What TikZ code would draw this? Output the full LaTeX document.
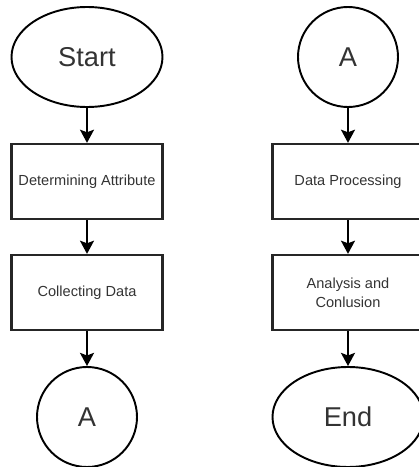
\documentclass[tikz,border=0pt]{standalone}
\usepackage{fontspec}
\setmainfont{Liberation Sans}
\usepackage{tikz}
\usetikzlibrary{arrows.meta,shapes.geometric}

\begin{document}
\begin{tikzpicture}[
  font=\fontsize{8.3}{10.8}\selectfont,
  arrow/.style={-{Stealth[length=7.5pt,width=8pt,inset=1.5pt]}, line width=1.1pt},
  stepbox/.style={draw=black!85, line width=1.3pt, text=black!80, minimum width=3.02cm, minimum height=1.5cm, align=center, inner sep=1pt},
  terminal/.style={ellipse, draw, line width=1.1pt, text=black!80, minimum width=3.02cm, minimum height=2.0cm, inner sep=0pt, font=\fontsize{15.5}{18}\selectfont},
  connector/.style={circle, draw, line width=1.1pt, text=black!80, minimum size=2.0cm, inner sep=0pt, font=\fontsize{15.5}{18}\selectfont}
]
\useasboundingbox (0,0) rectangle (8.38,9.34);

% left column
\node[terminal] (start) at (1.74,8.2) {Start};
\node[stepbox] (attr) at (1.74,5.71) {Determining Attribute};
\node[stepbox] (collect) at (1.74,3.49) {Collecting Data};
\node[connector] (outA) at (1.74,1.0) {A};

% right column
\node[connector] (inA) at (6.96,8.2) {A};
\node[stepbox] (proc) at (6.96,5.71) {Data Processing};
\node[stepbox] (anal) at (6.96,3.49) {Analysis and\\Conlusion};
\node[terminal] (stop) at (6.96,1.0) {End};

\draw[arrow] (start) -- (attr);
\draw[arrow] (attr) -- (collect);
\draw[arrow] (collect) -- (outA);
\draw[arrow] (inA) -- (proc);
\draw[arrow] (proc) -- (anal);
\draw[arrow] (anal) -- (stop);
\end{tikzpicture}
\end{document}
